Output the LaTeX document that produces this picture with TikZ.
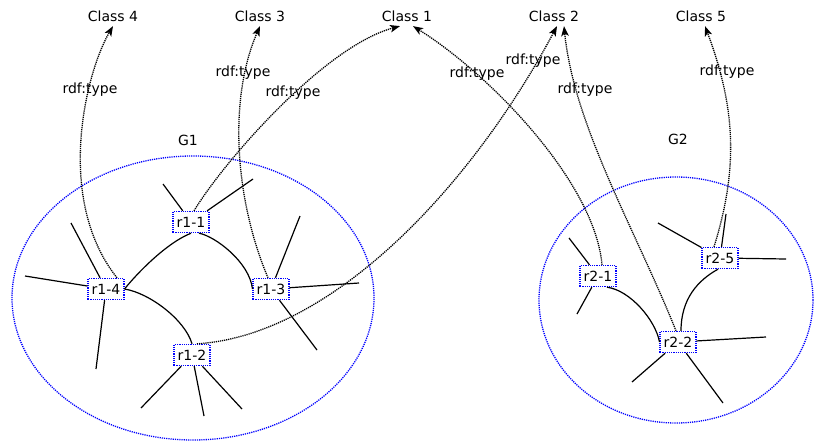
\documentclass[tikz,border=0pt]{standalone}
\usepackage{fontspec}
\setmainfont{DejaVu Sans}
\usetikzlibrary{arrows.meta,shapes.geometric}

\begin{document}
\begin{tikzpicture}[x=1pt,y=-1pt,
  every node/.style={font=\fontsize{14}{16}\selectfont},
  res/.style={draw=blue, dash pattern=on 1.2pt off 1pt, line width=1.4pt,
    fill=white, inner xsep=3.5pt, inner ysep=2pt, minimum height=21pt},
  cls/.style={inner sep=4.5pt},
  lbl/.style={inner sep=1pt},
  graphzone/.style={ellipse, draw=blue, dash pattern=on 1.2pt off 1pt,
    line width=1.3pt, inner sep=0pt},
  link/.style={line width=1.2pt},
  typeof/.style={dash pattern=on 1.2pt off 0.9pt, line width=1.3pt,
    -{Stealth[length=10pt,width=7.5pt,inset=2.5pt]}},
]
\useasboundingbox (0,0) rectangle (814,442);

% graph areas
\node[graphzone, minimum width=362pt, minimum height=284pt] (zone1) at (193,298) {};
\node[graphzone, minimum width=274pt, minimum height=246pt] (zone2) at (676,300) {};
\node (g1) at (188,140) {G1};
\node (g2) at (678,139) {G2};

% classes
\node[cls] (c4) at (113,16) {Class 4};
\node[cls] (c3) at (260,16) {Class 3};
\node[cls] (c1) at (407,16) {Class 1};
\node[cls] (c2) at (554,16) {Class 2};
\node[cls] (c5) at (701,16) {Class 5};

% resources
\node[res] (r1-1) at (191,222) {r1-1};
\node[res] (r1-3) at (271,289) {r1-3};
\node[res] (r1-2) at (192,355) {r1-2};
\node[res] (r1-4) at (106,289) {r1-4};
\node[res] (r2-1) at (598,276) {r2-1};
\node[res] (r2-5) at (720,258) {r2-5};
\node[res] (r2-2) at (678,342) {r2-2};

% loose ends of the surrounding graph
\coordinate (s11a) at (163,184);
\coordinate (s11b) at (253,179);
\coordinate (s14a) at (71,223);
\coordinate (s14b) at (25,276);
\coordinate (s14c) at (96,369);
\coordinate (s13a) at (300,216);
\coordinate (s13b) at (359,283);
\coordinate (s13c) at (317,350);
\coordinate (s12a) at (141,408);
\coordinate (s12b) at (204,416);
\coordinate (s12c) at (242,409);
\coordinate (s21a) at (569,238);
\coordinate (s21b) at (577,314);
\coordinate (s25a) at (658,223);
\coordinate (s25b) at (726,214);
\coordinate (s25c) at (786,259);
\coordinate (s22a) at (766,337);
\coordinate (s22b) at (632,382);
\coordinate (s22c) at (723,403);

\foreach \n/\e in {r1-1/s11a, r1-1/s11b, r1-4/s14a, r1-4/s14b, r1-4/s14c,
    r1-3/s13a, r1-3/s13b, r1-3/s13c, r1-2/s12a, r1-2/s12b, r1-2/s12c,
    r2-1/s21a, r2-1/s21b, r2-5/s25a, r2-5/s25b, r2-5/s25c,
    r2-2/s22a, r2-2/s22b, r2-2/s22c}
  \draw[link] (\n) -- (\e);

% links between resources
\draw[link] (r1-4.east) .. controls +(12,-15) and +(-25,10) .. (r1-1.south);
\draw[link] ([xshift=8pt]r1-1.south) .. controls +(16,3) and +(-3,-27) .. (r1-3.west);
\draw[link] (r1-4.east) .. controls +(25,4) and +(-7,-24) .. (r1-2.north);
\draw[link] ([xshift=9pt]r2-1.south) .. controls +(23,3) and +(-4,-22) .. (r2-2.west);
\draw[link] ([xshift=-2pt]r2-5.south) .. controls +(-20,11) and +(0,-32) .. ([xshift=3pt]r2-2.north);

% rdf:type links
\draw[typeof] ([xshift=11pt]r1-4.north) .. controls +(-62,-78) and +(-28,48) .. (c4.south);
\draw[typeof] ([xshift=-3pt]r1-3.north) .. controls +(-33,-78) and +(-32,73) .. (c3.south);
\draw[typeof] ([xshift=3pt]r1-1.north) .. controls +(31,-51) and +(-75,20) .. ([xshift=-7pt]c1.south);
\draw[typeof] ([xshift=5pt]r1-2.north) .. controls +(133,-8) and +(-87,163) .. ([xshift=3pt]c2.south);
\draw[typeof] ([xshift=4pt]r2-1.north) .. controls +(-7,-82) and +(77,48) .. ([xshift=6pt]c1.south);
\draw[typeof] ([xshift=-2pt]r2-2.north) .. controls +(-40,-100) and +(10,100) .. ([xshift=10pt]c2.south);
\draw[typeof] ([xshift=-6pt]r2-5.north) .. controls +(25,-80) and +(30,80) .. ([xshift=4pt]c5.south);

% labels of the rdf:type links
\node[lbl] (t4) at (90,90) {rdf:type};
\node[lbl] (t3) at (243,73) {rdf:type};
\node[lbl] (t1a) at (293,93) {rdf:type};
\node[lbl] (t2a) at (533,61) {rdf:type};
\node[lbl] (t1b) at (477,74) {rdf:type};
\node[lbl] (t2b) at (585,90) {rdf:type};
\node[lbl] (t5) at (727,72) {rdf:type};
\end{tikzpicture}
\end{document}
